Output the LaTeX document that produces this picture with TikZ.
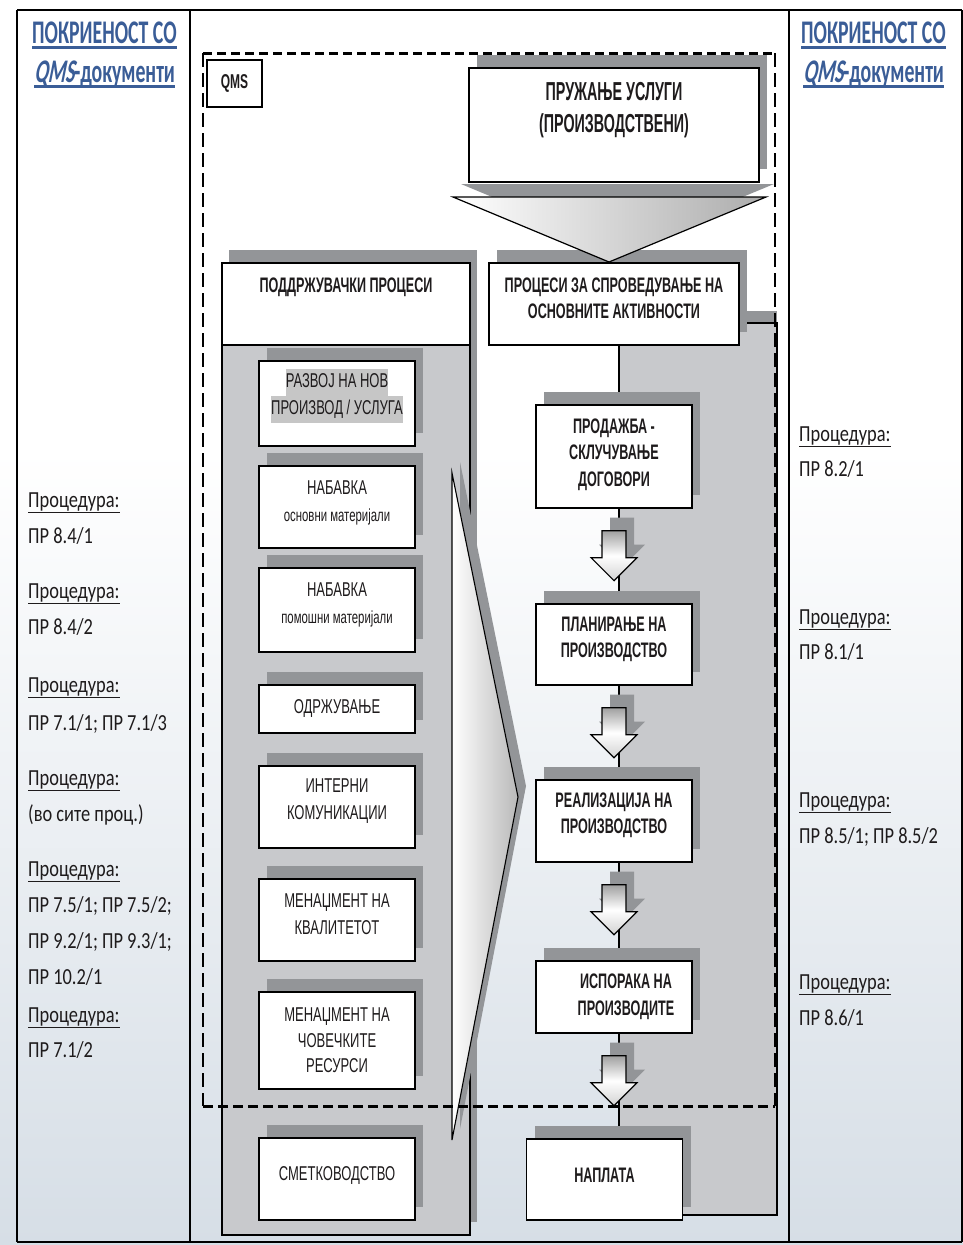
\documentclass[tikz,border=0pt]{standalone}
\usepackage{fontspec}
\setmainfont{Liberation Sans}
\newfontfamily\nfont[FakeStretch=0.65]{Liberation Sans}
\newfontfamily\bnfont[FakeStretch=0.6]{Liberation Sans}
\newfontfamily\bbnfont[FakeStretch=0.55]{Liberation Sans}
\newfontfamily\cfont[FakeStretch=0.8]{Carlito}
\newfontfamily\hfont[FakeStretch=0.6]{Carlito}
\newfontfamily\hifont[FakeStretch=0.6,FakeSlant=0.2]{Carlito}
\usetikzlibrary{calc,shadows}
\definecolor{shd}{RGB}{147,149,152}
\definecolor{pnl}{RGB}{200,201,204}
\definecolor{hdblue}{RGB}{58,93,151}
\definecolor{bgb}{RGB}{214,222,230}
\definecolor{txt}{RGB}{30,27,28}
\definecolor{hlg}{RGB}{198,198,198}
\newcommand\hlt[1]{{\setlength{\fboxsep}{0pt}\colorbox{hlg}{\strut #1}}}
\newsavebox\ulbox
\newcommand\ulx[3]{\sbox\ulbox{#3}\rlap{\rule[-#1]{\wd\ulbox}{#2}}\usebox\ulbox}
\newcommand\blockarrow[2]{%
  \path (#1.south) ++(0,22) coordinate (#2);
  \fill[shd] ($(#2)+(8,-13)$) ++(-12,0) -- ++(24,0) -- ++(0,27) -- ++(11,0) -- ++(-23,23) -- ++(-23,-23) -- ++(11,0) -- cycle;
  \shade[draw=black, line width=1.2pt, top color=gray!75, bottom color=gray!35, middle color=white]
    (#2) ++(-12,0) -- ++(24,0) -- ++(0,27) -- ++(11,0) -- ++(-23,23) -- ++(-23,-23) -- ++(11,0) -- cycle;
}
\begin{document}
\begin{tikzpicture}[x=1pt,y=-1pt,
  sbox/.style={draw=black, line width=1.3pt, fill=white, inner sep=0pt,
     drop shadow={shadow xshift=8pt, shadow yshift=13pt, fill=shd, opacity=1}},
  lbox/.style={sbox, minimum width=156pt},
  ltxt/.style={text=txt, align=center, inner sep=0pt, font=\nfont\fontsize{20}{27}\selectfont},
  btxt/.style={text=txt, align=center, inner sep=0pt, font=\bnfont\bfseries\fontsize{21}{26.5}\selectfont},
  bbtxt/.style={text=txt, align=center, inner sep=0pt, font=\bbnfont\bfseries\fontsize{26}{32}\selectfont},
  proc/.style={anchor=base west, inner sep=0pt, text=txt, font=\cfont\fontsize{23}{25}\selectfont},
  hdr/.style={anchor=base, inner sep=0pt, text=hdblue, font=\hfont\bfseries\fontsize{33}{36}\selectfont},
  tline/.style={draw=black, line width=1.2pt},
]
\useasboundingbox (0,0) rectangle (963,1245);
% background
\fill[white] (0,0) rectangle (963,1245);
\shade[top color=white, bottom color=bgb] (0,450) rectangle (963,1245);

% table
\draw[tline] (17,10) -- (962,10);
\draw[tline] (17,10) -- (17,1242);
\draw[tline] (190,10) -- (190,1242);
\draw[tline] (789,10) -- (789,1242);
\draw[tline] (962,10) -- (962,1242);
\draw[line width=2.2pt] (17,1242) -- (962,1242);

% column headers
\node[hdr] (hl1) at (104.5,43) {\ulx{5.8pt}{2.4pt}{ПОКРИЕНОСТ СО}};
\node[hdr] (hl2) at (104.5,82) {\ulx{5.8pt}{2.4pt}{{\hifont\bfseries QMS}-документи}};
\node[hdr] (hr1) at (873.5,43) {\ulx{5.8pt}{2.4pt}{ПОКРИЕНОСТ СО}};
\node[hdr] (hr2) at (873.5,82) {\ulx{5.8pt}{2.4pt}{{\hifont\bfseries QMS}-документи}};

% left procedures
\node[proc] (lp1) at (28,507) {\ulx{6.3pt}{1.4pt}{Процедура:}};
\node[proc] (lp1b) at (28,543) {ПР 8.4/1};
\node[proc] (lp2) at (28,598) {\ulx{6.3pt}{1.4pt}{Процедура:}};
\node[proc] (lp2b) at (28,634) {ПР 8.4/2};
\node[proc] (lp3) at (28,692) {\ulx{6.3pt}{1.4pt}{Процедура:}};
\node[proc] (lp3b) at (28,730) {ПР 7.1/1; ПР 7.1/3};
\node[proc] (lp4) at (28,785) {\ulx{6.3pt}{1.4pt}{Процедура:}};
\node[proc] (lp4b) at (28,821) {(во сите проц.)};
\node[proc] (lp5) at (28,876) {\ulx{6.3pt}{1.4pt}{Процедура:}};
\node[proc] (lp5b) at (28,912) {ПР 7.5/1; ПР 7.5/2;};
\node[proc] (lp5c) at (28,948) {ПР 9.2/1; ПР 9.3/1;};
\node[proc] (lp5d) at (28,984) {ПР 10.2/1};
\node[proc] (lp6) at (28,1022) {\ulx{6.3pt}{1.4pt}{Процедура:}};
\node[proc] (lp6b) at (28,1057) {ПР 7.1/2};

% right procedures
\node[proc] (rp1) at (799,441) {\ulx{6.3pt}{1.4pt}{Процедура:}};
\node[proc] (rp1b) at (799,476) {ПР 8.2/1};
\node[proc] (rp2) at (799,624) {\ulx{6.3pt}{1.4pt}{Процедура:}};
\node[proc] (rp2b) at (799,659) {ПР 8.1/1};
\node[proc] (rp3) at (799,807) {\ulx{6.3pt}{1.4pt}{Процедура:}};
\node[proc] (rp3b) at (799,843) {ПР 8.5/1; ПР 8.5/2};
\node[proc] (rp4) at (799,989) {\ulx{6.3pt}{1.4pt}{Процедура:}};
\node[proc] (rp4b) at (799,1025) {ПР 8.6/1};

% right panel
\fill[shd] (627,311) rectangle (777,1203);
\draw[fill=pnl, line width=1.2pt] (619,323) rectangle (777,1215);

% left group
\fill[shd] (229,250) rectangle (477,1222);
\draw[fill=pnl, line width=1.3pt] (222,345) rectangle (470,1235);
\node[draw, line width=1.3pt, fill=white, minimum width=248pt, minimum height=82pt, inner sep=0pt] (lh) at (346,304) {};
\node[btxt] (lht) at (346,287) {ПОДДРЖУВАЧКИ ПРОЦЕСИ};

% left boxes
\node[lbox, minimum height=85pt] (b1) at (337,403.5) {};
\node[ltxt] (t1) at (337,395.5) {\hlt{РАЗВОЈ НА НОВ}\\\hlt{ПРОИЗВОД / УСЛУГА}};
\node[lbox, minimum height=82pt] (b2) at (337,507) {};
\node[ltxt] (t2) at (337,503) {НАБАВКА\\{\fontsize{17.5}{20}\selectfont основни материјали}};
\node[lbox, minimum height=84pt] (b3) at (337,610) {};
\node[ltxt] (t3) at (337,605) {НАБАВКА\\{\fontsize{17.5}{20}\selectfont помошни материјали}};
\node[lbox, minimum height=48pt] (b4) at (337,709) {};
\node[ltxt] (t4) at (337,708) {ОДРЖУВАЊЕ};
\node[lbox, minimum height=82pt] (b5) at (337,807) {};
\node[ltxt] (t5) at (337,801.5) {ИНТЕРНИ\\КОМУНИКАЦИИ};
\node[lbox, minimum height=82pt] (b6) at (337,920) {};
\node[ltxt] (t6) at (337,914.5) {МЕНАЏМЕНТ НА\\КВАЛИТЕТОТ};
\node[lbox, minimum height=97pt] (b7) at (337,1040.5) {};
\node[ltxt, font=\nfont\fontsize{20}{25.5}\selectfont] (t7) at (337,1040.5) {МЕНАЏМЕНТ НА\\ЧОВЕЧКИТЕ\\РЕСУРСИ};
\node[lbox, minimum height=82pt] (b8) at (337,1179) {};
\node[ltxt] (t8) at (337,1175) {СМЕТКОВОДСТВО};

% big chevron arrow
\fill[shd] (460,462) -- (526,786) -- (460,1129) -- cycle;
\shade[left color=white, right color=gray!55, draw=black, line width=1.1pt] (452,473) -- (518,797) -- (452,1140) -- cycle;

% top box and header of main processes
\node[sbox, minimum width=290pt, minimum height=114pt] (pu) at (614,125) {};
\node[bbtxt] (put) at (614,110) {ПРУЖАЊЕ УСЛУГИ\\(ПРОИЗВОДСТВЕНИ)};
\node[sbox, minimum width=250pt, minimum height=82pt] (rh) at (614,304) {};
\node[btxt] (rht) at (614,298.5) {ПРОЦЕСИ ЗА СПРОВЕДУВАЊЕ НА\\ОСНОВНИТЕ АКТИВНОСТИ};

% funnel
\fill[shd] (461,184) -- (774,184) -- (617,249) -- cycle;
\shade[left color=white, right color=gray!65, draw=black, line width=1.2pt] (453,197) -- (766,197) -- (609,262) -- cycle;

% QMS label
\node[draw, line width=1.2pt, fill=white, minimum width=55pt, minimum height=47pt, inner sep=0pt,
      text=txt, font=\bnfont\bfseries\fontsize{20}{22}\selectfont] (qms) at (234.5,83.5) {QMS};

% right boxes
\node[lbox, minimum height=103pt] (r1) at (614,456.5) {};
\node[btxt] (r1t) at (614,454.5) {ПРОДАЖБА -\\СКЛУЧУВАЊЕ\\ДОГОВОРИ};
\node[lbox, minimum height=81pt] (r2) at (614,644.5) {};
\node[btxt] (r2t) at (614,639.5) {ПЛАНИРАЊЕ НА\\ПРОИЗВОДСТВО};
\node[lbox, minimum height=82pt] (r3) at (614,821) {};
\node[btxt] (r3t) at (614,815.5) {РЕАЛИЗАЦИЈА НА\\ПРОИЗВОДСТВО};
\node[lbox, minimum height=72pt] (r4) at (614,997) {};
\node[btxt] (r4t) at (626,996.5) {ИСПОРАКА НА\\ПРОИЗВОДИТЕ};
\node[lbox, minimum height=81pt] (r5) at (604.5,1179.5) {};
\node[btxt] (r5t) at (604.5,1175) {НАПЛАТА};

% block arrows
\blockarrow{r1}{a1}
\blockarrow{r2}{a2}
\blockarrow{r3}{a3}
\blockarrow{r4}{a4}

% dashed QMS frame
\coordinate (fTL) at (203,53);
\coordinate (fTR) at (775,53);
\coordinate (fBL) at (203,1106);
\coordinate (fBR) at (775,1106);
\draw[line width=3pt, dash pattern=on 9pt off 5pt] (fTL) -- (fTR);
\draw[line width=1.8pt, dash pattern=on 14pt off 6pt] (fTL) -- (fBL);
\draw[line width=2pt, dash pattern=on 14pt off 6pt] (fTR) -- (fBR);
\draw[line width=3pt, dash pattern=on 10pt off 5pt] (fBL) -- (fBR);
\end{tikzpicture}
\end{document}
